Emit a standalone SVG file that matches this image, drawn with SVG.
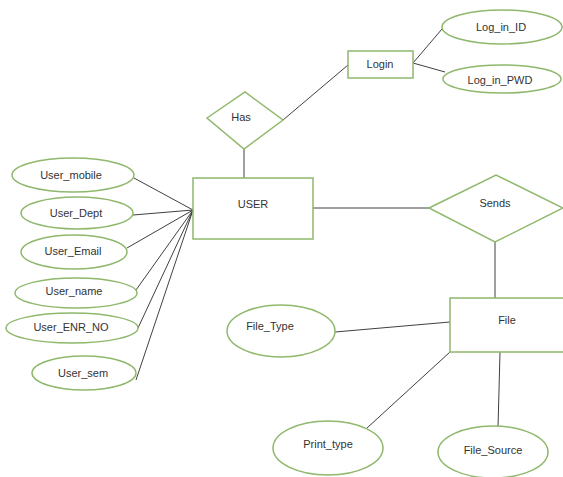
<svg xmlns="http://www.w3.org/2000/svg" width="563" height="477" viewBox="0 0 563 477">
<style>
.sh{fill:#fff;stroke:#8fb86c;stroke-width:1.5}
.ln{stroke:#404040;stroke-width:1;fill:none}
text{font-family:"Liberation Sans",Arial,sans-serif;font-size:11px;fill:#333;text-anchor:middle;dominant-baseline:middle}
</style>
<rect width="563" height="477" fill="#fff"/>
<g id="connectors">
<line class="ln" x1="413" y1="63" x2="442" y2="29"/>
<line class="ln" x1="413" y1="63" x2="445" y2="72"/>
<line class="ln" x1="283" y1="120" x2="348" y2="65"/>
<line class="ln" x1="244" y1="149" x2="244" y2="178"/>
<line class="ln" x1="193" y1="210" x2="134" y2="178"/>
<line class="ln" x1="193" y1="210" x2="133" y2="215"/>
<line class="ln" x1="193" y1="210" x2="127" y2="248"/>
<line class="ln" x1="193" y1="210" x2="136" y2="290"/>
<line class="ln" x1="193" y1="210" x2="138" y2="328"/>
<line class="ln" x1="193" y1="210" x2="136" y2="380"/>
<line class="ln" x1="313" y1="208" x2="429" y2="208"/>
<line class="ln" x1="495" y1="242" x2="495" y2="298"/>
<line class="ln" x1="335" y1="332" x2="450" y2="322"/>
<line class="ln" x1="450" y1="352" x2="367" y2="428"/>
<line class="ln" x1="500" y1="352" x2="498" y2="428"/>
</g>
<g id="login"><rect class="sh" x="348" y="51" width="65" height="27"/><text x="380" y="65">Login</text></g>
<g id="log_in_id"><ellipse class="sh" cx="502" cy="27" rx="60" ry="17"/><text x="501" y="28">Log_in_ID</text></g>
<g id="log_in_pwd"><ellipse class="sh" cx="502" cy="79" rx="59" ry="14"/><text x="500" y="81">Log_in_PWD</text></g>
<g id="has"><polygon class="sh" points="207,118 245,92 283,120 244,149"/><text x="241" y="118">Has</text></g>
<g id="user"><rect class="sh" x="193" y="178" width="120" height="61"/><text x="253" y="205">USER</text></g>
<g id="user_mobile"><ellipse class="sh" cx="73" cy="175" rx="61" ry="17"/><text x="71" y="176">User_mobile</text></g>
<g id="user_dept"><ellipse class="sh" cx="77" cy="213" rx="56" ry="16"/><text x="76" y="214">User_Dept</text></g>
<g id="user_email"><ellipse class="sh" cx="74" cy="252" rx="53" ry="17"/><text x="73" y="252">User_Email</text></g>
<g id="user_name"><ellipse class="sh" cx="76" cy="293" rx="61" ry="15"/><text x="74" y="292">User_name</text></g>
<g id="user_enr_no"><ellipse class="sh" cx="72" cy="328" rx="66" ry="15"/><text x="71" y="328">User_ENR_NO</text></g>
<g id="user_sem"><ellipse class="sh" cx="84" cy="373" rx="52" ry="17"/><text x="83" y="374">User_sem</text></g>
<g id="sends"><polygon class="sh" points="429,208 496,175 563,208 495,242"/><text x="495" y="204">Sends</text></g>
<g id="file"><rect class="sh" x="450" y="298" width="116" height="54"/><text x="507" y="321">File</text></g>
<g id="file_type"><ellipse class="sh" cx="281" cy="331" rx="54" ry="26"/><text x="270" y="327">File_Type</text></g>
<g id="print_type"><ellipse class="sh" cx="328" cy="448" rx="55" ry="27"/><text x="328" y="445">Print_type</text></g>
<g id="file_source"><ellipse class="sh" cx="493" cy="452" rx="55" ry="26"/><text x="493" y="451">File_Source</text></g>
</svg>
